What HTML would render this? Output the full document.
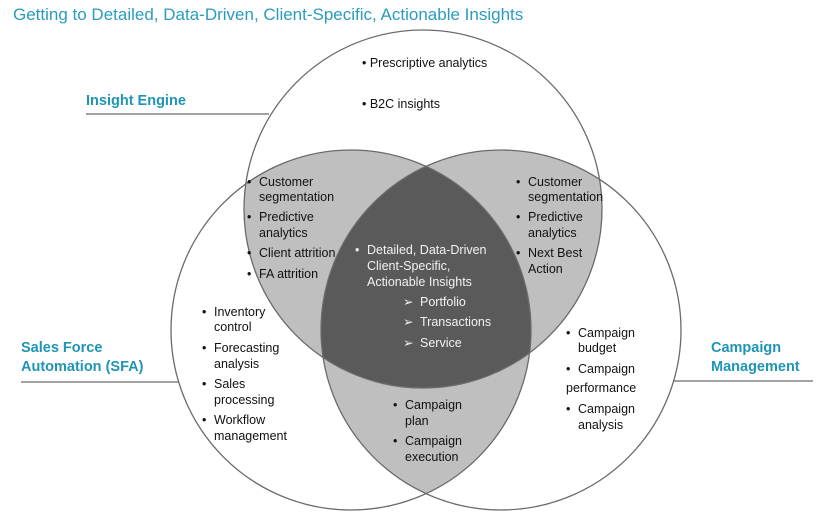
<!DOCTYPE html>
<html><head><meta charset="utf-8"><style>
html,body{margin:0;padding:0;background:#fff;}
svg{display:block;}
text{font-family:"Liberation Sans",Arial,sans-serif;}
.t{font-size:12.5px;fill:#111;}
.w{font-size:12.5px;fill:#f2f2f2;}
.h{font-size:14.5px;font-weight:bold;fill:#1f95b5;}
</style></head><body>
<svg width="832" height="520" viewBox="0 0 832 520" xmlns="http://www.w3.org/2000/svg">
<defs>
<clipPath id="cA"><circle cx="423" cy="209" r="179"/></clipPath>
<clipPath id="cB"><circle cx="351" cy="330" r="180"/></clipPath>
<clipPath id="cC"><circle cx="501" cy="330" r="180"/></clipPath>
</defs>
<rect width="832" height="520" fill="#fff"/>
<text x="13" y="20" style="font-size:17px;fill:#2a9cbc">Getting to Detailed, Data-Driven, Client-Specific, Actionable Insights</text>
<!-- pairwise -->
<g clip-path="url(#cA)"><circle cx="351" cy="330" r="180" fill="#bfbfbf"/><circle cx="501" cy="330" r="180" fill="#bfbfbf"/></g>
<g clip-path="url(#cB)"><circle cx="501" cy="330" r="180" fill="#bfbfbf"/></g>
<g clip-path="url(#cA)"><g clip-path="url(#cB)"><circle cx="501" cy="330" r="180" fill="#5a5a5a"/></g></g>
<g fill="none" stroke="#6b6b6b" stroke-width="1.3">
<circle cx="423" cy="209" r="179"/>
<circle cx="351" cy="330" r="180"/>
<circle cx="501" cy="330" r="180"/>
</g>
<g stroke="#6b6b6b" stroke-width="1.3">
<line x1="86" y1="114" x2="269" y2="114"/>
<line x1="21" y1="382" x2="179" y2="382"/>
<line x1="673" y1="381" x2="813" y2="381"/>
</g>
<text class="h" x="86" y="105">Insight Engine</text>
<text class="h" x="21" y="352">Sales Force</text>
<text class="h" x="21" y="371">Automation  (SFA)</text>
<text class="h" x="711" y="352">Campaign</text>
<text class="h" x="711" y="371">Management</text>
<!-- top -->
<text class="t" x="362" y="67">•  Prescriptive analytics</text>
<text class="t" x="362" y="108">•  B2C insights</text>
<!-- left overlap -->
<g class="t">
<text x="247" y="186">•</text><text x="259" y="186">Customer</text><text x="259" y="201">segmentation</text>
<text x="247" y="221">•</text><text x="259" y="221">Predictive</text><text x="259" y="237">analytics</text>
<text x="247" y="257">•</text><text x="259" y="257">Client attrition</text>
<text x="247" y="278">•</text><text x="259" y="278">FA attrition</text>
</g>
<!-- right overlap -->
<g class="t">
<text x="516" y="186">•</text><text x="528" y="186">Customer</text><text x="528" y="201">segmentation</text>
<text x="516" y="221">•</text><text x="528" y="221">Predictive</text><text x="528" y="237">analytics</text>
<text x="516" y="257">•</text><text x="528" y="257">Next Best</text><text x="528" y="273">Action</text>
</g>
<!-- center -->
<g class="w">
<text x="355" y="254">•</text><text x="367" y="254">Detailed, Data-Driven</text>
<text x="367" y="270">Client-Specific,</text>
<text x="367" y="286">Actionable Insights</text>
<text x="403" y="306">➢</text><text x="420" y="306">Portfolio</text>
<text x="403" y="326">➢</text><text x="420" y="326">Transactions</text>
<text x="403" y="347">➢</text><text x="420" y="347">Service</text>
</g>
<!-- left -->
<g class="t">
<text x="202" y="316">•</text><text x="214" y="316">Inventory</text><text x="214" y="331">control</text>
<text x="202" y="352">•</text><text x="214" y="352">Forecasting</text><text x="214" y="368">analysis</text>
<text x="202" y="388">•</text><text x="214" y="388">Sales</text><text x="214" y="404">processing</text>
<text x="202" y="424">•</text><text x="214" y="424">Workflow</text><text x="214" y="440">management</text>
</g>
<!-- bottom -->
<g class="t">
<text x="393" y="409">•</text><text x="405" y="409">Campaign</text><text x="405" y="425">plan</text>
<text x="393" y="445">•</text><text x="405" y="445">Campaign</text><text x="405" y="461">execution</text>
</g>
<!-- right -->
<g class="t">
<text x="566" y="337">•</text><text x="578" y="337">Campaign</text><text x="578" y="352">budget</text>
<text x="566" y="373">•</text><text x="578" y="373">Campaign</text>
<text x="566" y="392">performance</text>
<text x="566" y="413">•</text><text x="578" y="413">Campaign</text><text x="578" y="429">analysis</text>
</g>
</svg>
</body></html>
